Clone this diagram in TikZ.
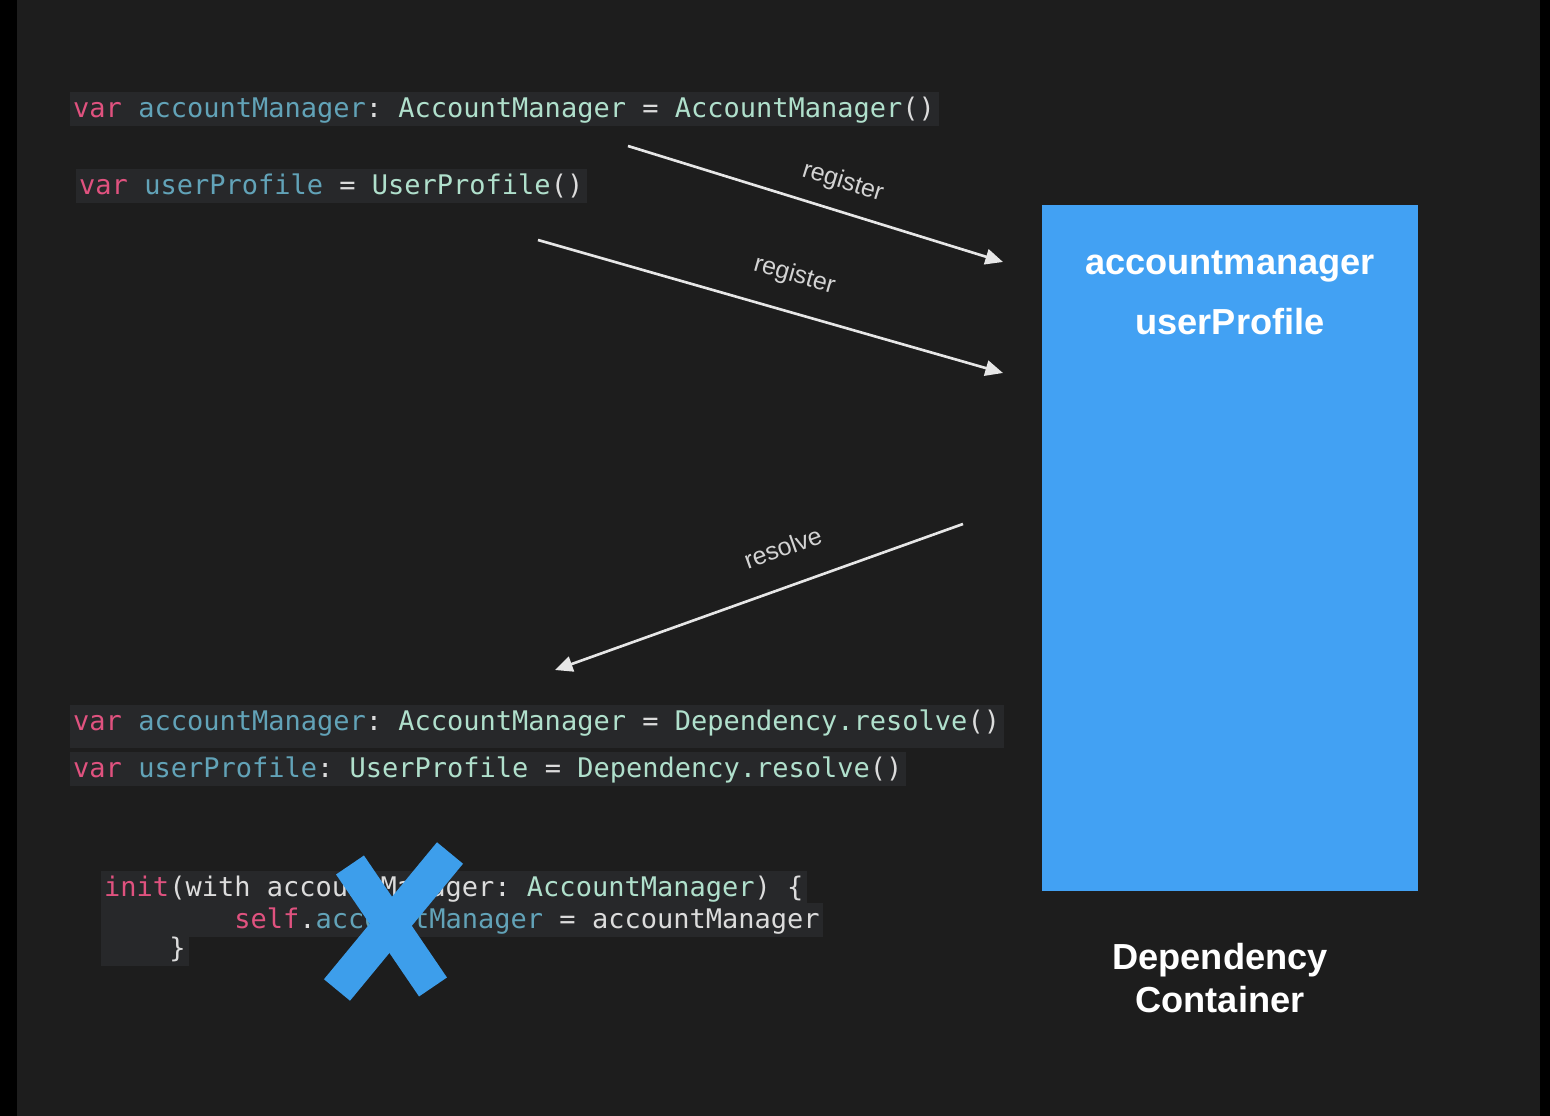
\documentclass[tikz,border=0pt]{standalone}
\usepackage{fontspec}
\setmainfont{Liberation Sans}
\newfontfamily\codefont{DejaVu Sans Mono}
\usetikzlibrary{arrows.meta, positioning}
\frenchspacing

\definecolor{slidebg}{HTML}{1D1D1D}
\definecolor{codebg}{HTML}{27282A}
\definecolor{kwpink}{HTML}{E0527F}
\definecolor{varblue}{HTML}{62A3B8}
\definecolor{typemint}{HTML}{B0E0CC}
\definecolor{plaingray}{HTML}{DCDCDC}
\definecolor{boxblue}{HTML}{42A1F3}
\definecolor{crossblue}{HTML}{3D9EEB}
\definecolor{arrowgray}{HTML}{E6E6E6}

\newcommand{\kw}[1]{\textcolor{kwpink}{#1}}
\newcommand{\vn}[1]{\textcolor{varblue}{#1}}
\newcommand{\ty}[1]{\textcolor{typemint}{#1}}

\tikzset{
  codeline/.style={anchor=base west, fill=codebg, text=plaingray,
    font=\codefont\fontsize{7.68pt}{9pt}\selectfont,
    inner xsep=1pt, inner ysep=0.4pt, text height=7pt, text depth=1.9pt},
  flow/.style={draw=arrowgray, line width=0.75pt, -{Triangle[length=5pt,width=4.4pt]}},
  flowlabel/.style={text=plaingray!90!gray, font=\fontsize{7.1pt}{8pt}\selectfont, sloped, inner sep=1pt},
  container/.style={fill=boxblue, minimum width=3.76cm, minimum height=6.86cm, inner sep=0pt},
  boxtext/.style={text=white, font=\bfseries\fontsize{10.3pt}{12.2pt}\selectfont},
}

\begin{document}
\begin{tikzpicture}[x=0.01cm, y=-0.01cm]
        % Define dimensions
        \def\picwidth{1550}
        \def\picheight{1116}
        \useasboundingbox (0,0) rectangle (\picwidth,\picheight);
        % Slide background with dark edges
        \fill[black] (0,0) rectangle (\picwidth,\picheight);
        \fill[slidebg] (17,0) rectangle (1540,\picheight);

        % Code that creates the instances
        \node[codeline] (amline) at (69,118) {\kw{var} \vn{accountManager}: \ty{AccountManager} = \ty{AccountManager}()};
        \node[codeline] (upline) at (75,195) {\kw{var} \vn{userProfile} = \ty{UserProfile}()};

        % Code that resolves them
        \node[codeline, text depth=4.5pt] (amres) at (69,731) {\kw{var} \vn{accountManager}: \ty{AccountManager} = \ty{Dependency.resolve}()};
        \node[codeline] (upres) at (69,778) {\kw{var} \vn{userProfile}: \ty{UserProfile} = \ty{Dependency.resolve}()};

        % Initializer injection, crossed out
        \node[codeline] (initline) at (100,897) {\kw{init}(with accountManager: \ty{AccountManager}) \{};
        \node[codeline] (selfline) at (100,929) {\phantom{xxxxxxxx}\kw{self}.\vn{accountManager} = accountManager};
        \node[codeline] (closeline) at (100,958) {\phantom{xxxx}\}};
        \draw[crossblue, line width=9.6pt] (350,865) -- (433,987);
        \draw[crossblue, line width=9.6pt] (450,853) -- (337,990);

        % Dependency container
        \node[container] (box) at (1230,548) {};
        \node[boxtext] (amitem) at (1230,267) {accountmanager};
        \node[boxtext] (upitem) at (1230,322) {userProfile};
        \node[boxtext, align=center] (caption) at (1220,978) {Dependency\\Container};

        % Arrows
        \coordinate (reg1s) at (628,146);
        \coordinate (reg1e) at (1003,262);
        \coordinate (reg2s) at (538,240);
        \coordinate (reg2e) at (1003,373);
        \coordinate (ress) at (963,524);
        \coordinate (rese) at (555,670);
        \foreach \from/\to/\where/\gap in {reg1s/reg1e/0.55/3.5pt, reg2s/reg2e/0.53/5.6pt}
            \draw[flow] (\from) -- (\to) node[flowlabel, pos=\where, above=\gap] {register};
        \draw[flow] (ress) -- (rese) node[flowlabel, pos=0.41, above=7pt] {resolve};
    \end{tikzpicture}
\end{document}
